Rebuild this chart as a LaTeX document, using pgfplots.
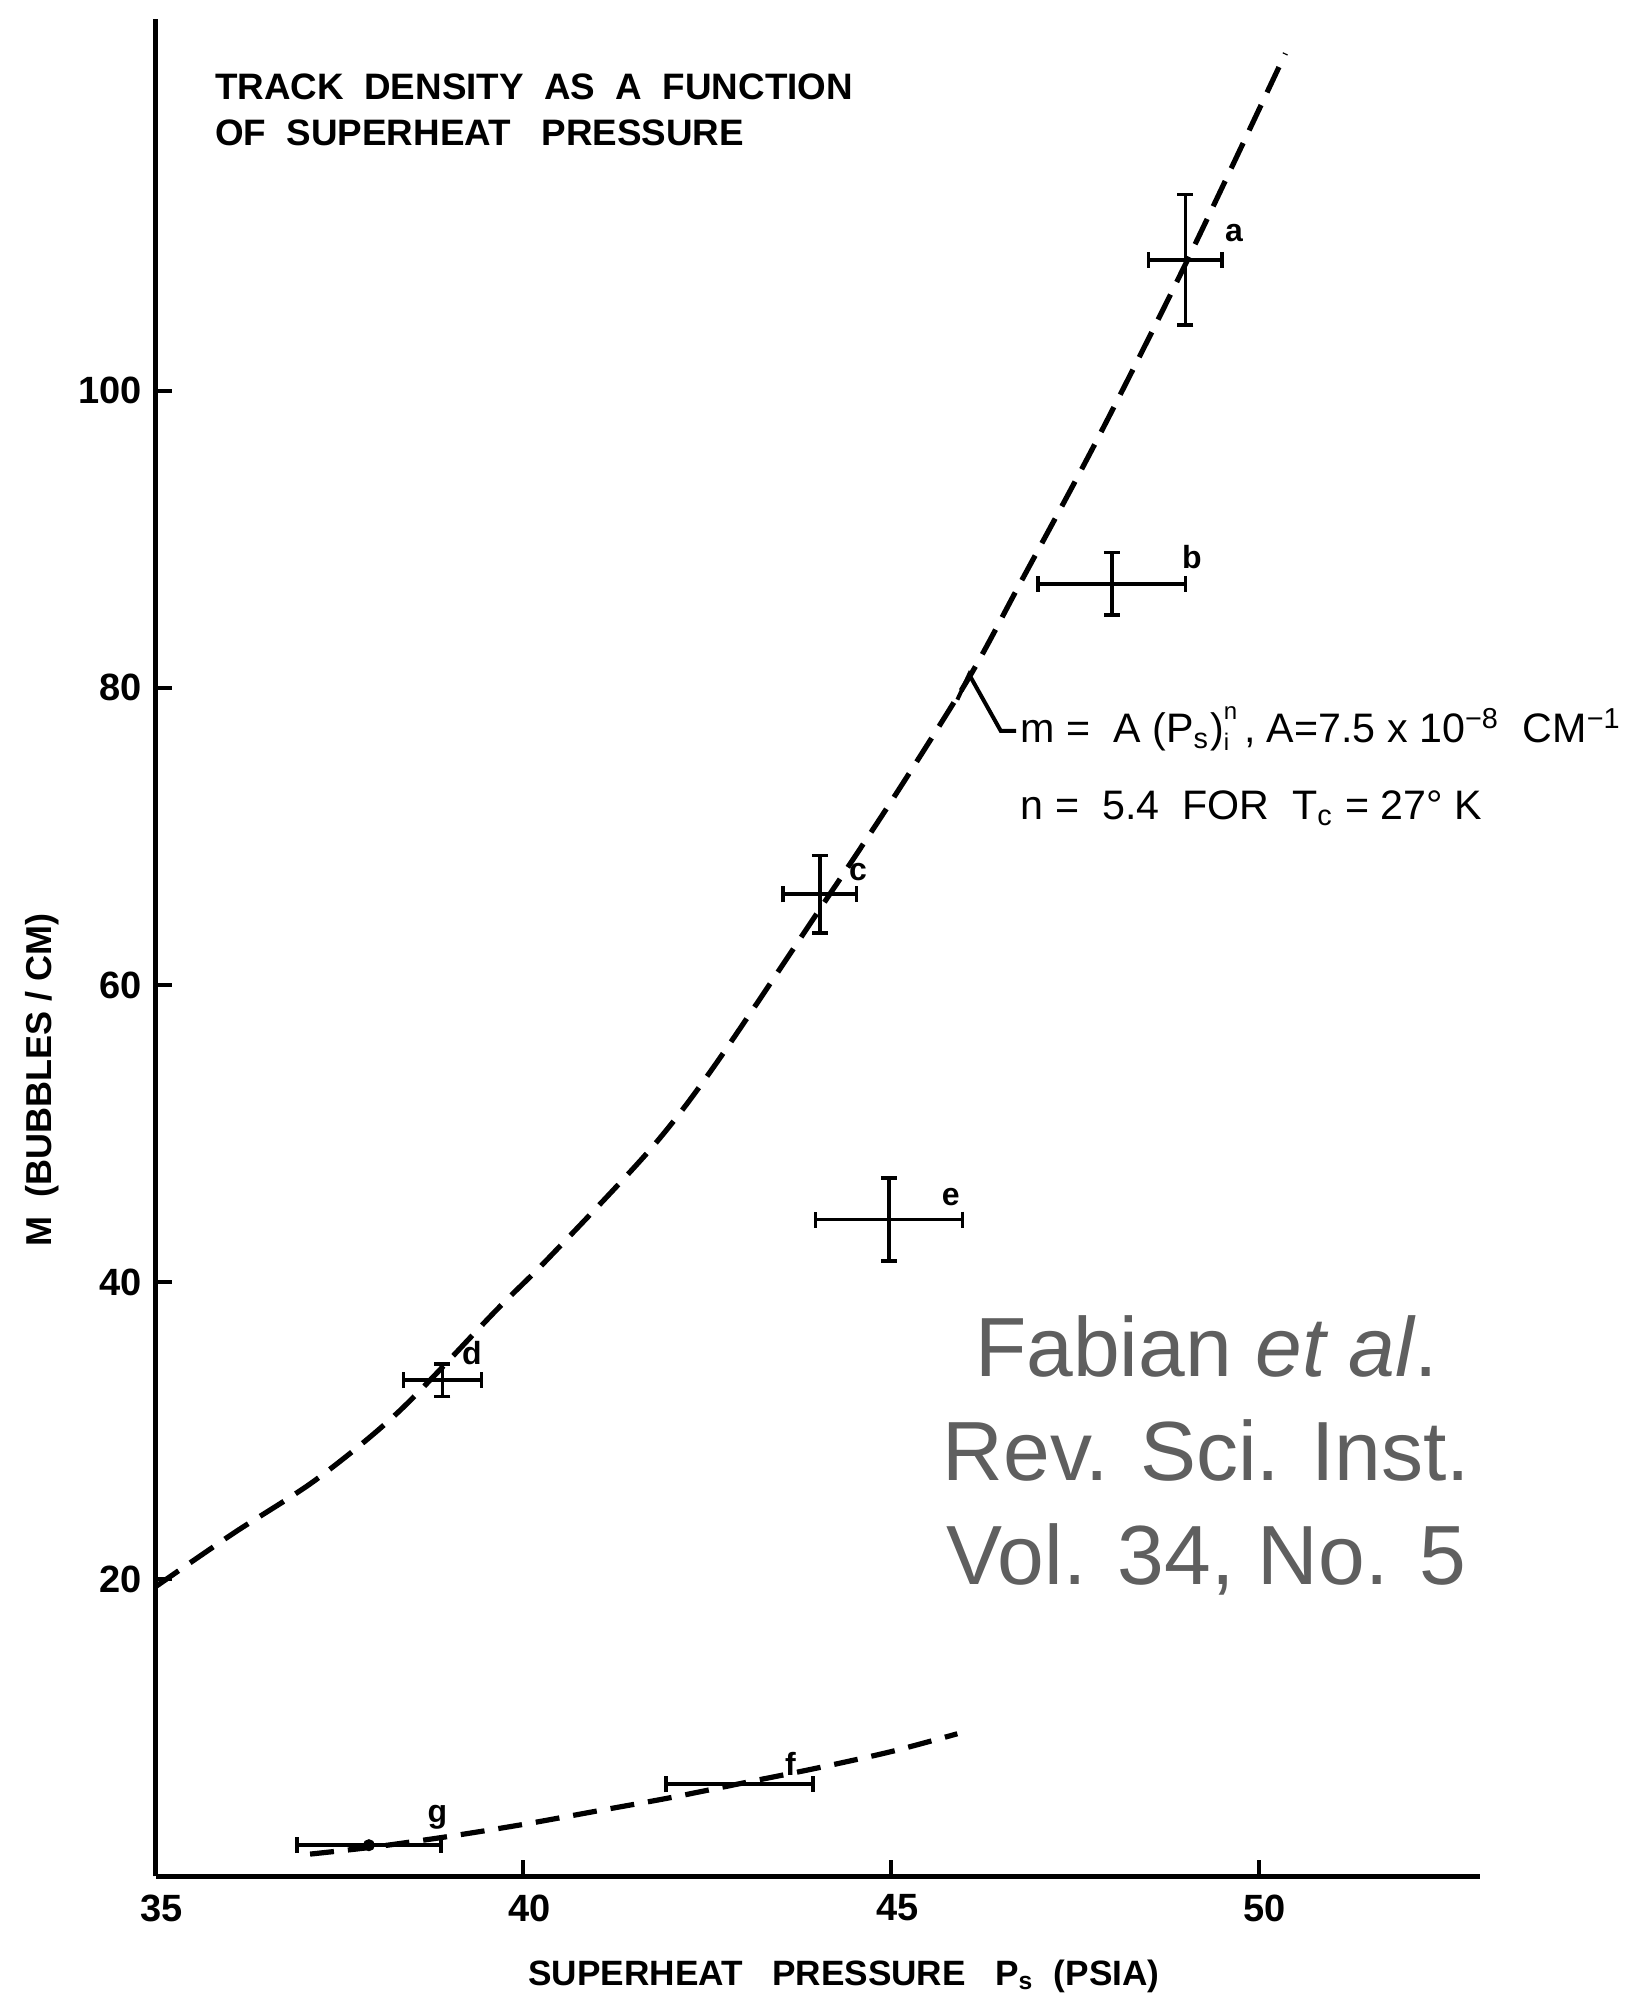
\documentclass[border=0pt]{standalone}
\usepackage{fontspec}
\setmainfont{Liberation Sans}
\usepackage{pgfplots}
\pgfplotsset{compat=1.18}
\definecolor{wm}{HTML}{5F5F5F}
\begin{document}
\begin{tikzpicture}
\path[use as bounding box] (0,0) rectangle (406.25pt,500.5pt);
\begin{axis}[
  at={(38.9pt,31.4pt)}, anchor=south west,
  scale only axis, width=331pt, height=464.3pt,
  xmin=35, xmax=53, ymin=0, ymax=125,
  axis x line=bottom, axis y line=left,
  axis line style={-, line width=1.1pt},
  xtick={35,40,45,50}, ytick={20,40,60,80,100},
  tick align=inside, major tick length=4pt,
  tick style={line width=1pt, black},
  /pgf/number format/assume math mode=true,
  ticklabel style={font=\bfseries\fontsize{9.5}{11}\selectfont},
  xticklabel style={yshift=-1pt, xshift=1.5pt},
  clip=false,
]
% fitted curves
\addplot[black, line width=1.3pt, dash pattern=on 7pt off 3.5pt, smooth, tension=0.5] coordinates {
 (35.00,19.5) (36.06,23.1) (37.18,26.7) (38.31,31.3) (39.63,38.1) (40.34,41.6)
 (41.72,48.9) (42.59,54.5) (44.03,65.1) (45.02,72.5) (46.06,80.7) (46.75,87.0)
 (47.79,96.6) (49.00,108.5) (50.36,122.7)};
\addplot[black, line width=1.3pt, dash pattern=on 6pt off 3.5pt, smooth, tension=0.5] coordinates {
 (37.1,1.5) (38.0,2.0) (39.0,2.7) (40.0,3.5) (41.0,4.4) (42.0,5.3) (43.0,6.3)
 (44.0,7.3) (45.0,8.4) (45.9,9.6)};
% data points with error bars
\addplot[draw=none, mark=none,
  error bars/.cd, x dir=both, x explicit, y dir=both, y explicit,
  error mark options={rotate=90, line width=0.9pt, mark size=2pt, draw=black},
  error bar style={line width=0.9pt, draw=black}]
 table[x=x, y=y, x error=ex, y error=ey] {
 x     y     ex   ey
 49.0  108.8 0.50 4.4
 48.0  87.0  1.00 2.1
 44.03 66.1  0.50 2.6
 38.9  33.4  0.53 1.1
 44.97 44.2  1.00 2.8
 42.94 6.2   1.00 0.0
 37.9  2.1   0.98 0.0
};
\addplot[only marks, mark=*, mark size=1.3pt, black] coordinates {(37.9,2.1)};
% point labels
\begin{scope}[font=\bfseries\fontsize{8}{9}\selectfont, inner sep=0pt]
\node at (axis cs:49.66,110.6) {a};
\node at (axis cs:49.09,88.8) {b};
\node at (axis cs:44.55,67.6) {c};
\node at (axis cs:39.30,35.2) {d};
\node at (axis cs:45.81,45.7) {e};
\node at (axis cs:43.63,7.6) {f};
\node at (axis cs:38.83,4.0) {g};
\end{scope}
% leader to formula
\draw[line width=1pt] (axis cs:45.90,79.2) -- (axis cs:46.06,80.9) -- (axis cs:46.49,77.1) -- (axis cs:46.70,77.1);
\end{axis}
% title
\node[anchor=north west, align=left, inner sep=0pt, font=\bfseries\fontsize{9.2}{11.5}\selectfont]
  at (53.6pt,482.3pt) {TRACK\ \ DENSITY\ \ AS\ \ A\ \ FUNCTION\\OF\ \ SUPERHEAT\ \ \ PRESSURE};
% axis labels
\node[rotate=90, inner sep=0pt, font=\bfseries\fontsize{9}{10}\selectfont] at (10.5pt,230.5pt)
  {M\ \ (BUBBLES / CM)};
\node[inner sep=0pt, font=\bfseries\fontsize{8.8}{10}\selectfont] at (211pt,6.5pt)
  {SUPERHEAT\ \ \ PRESSURE\ \ \ P\textsubscript{s}\ \ (PSIA)};
% formula
\node[anchor=base west, inner sep=0pt, font=\fontsize{10.3}{12}\selectfont] at (255pt,314.8pt)
  {m = \ A\ (P\textsubscript{s})\raisebox{-0.35ex}{\fontsize{6}{5}\selectfont\shortstack[l]{n\\[0.3pt]i}}\,, A=7.5 x 10\textsuperscript{−8}\ \ CM\textsuperscript{−1}};
\node[anchor=base west, inner sep=0pt, font=\fontsize{10.3}{12}\selectfont] at (255pt,295.6pt)
  {n = \ 5.4\ \ FOR\ \ T\textsubscript{c} = 27° K};
% watermark
\node[align=center, inner sep=0pt, text=wm, font=\fontsize{21}{26}\selectfont] at (301.6pt,136.7pt)
  {Fabian \textit{et al}.\\Rev. Sci. Inst.\\Vol. 34, No. 5};
\end{tikzpicture}
\end{document}
